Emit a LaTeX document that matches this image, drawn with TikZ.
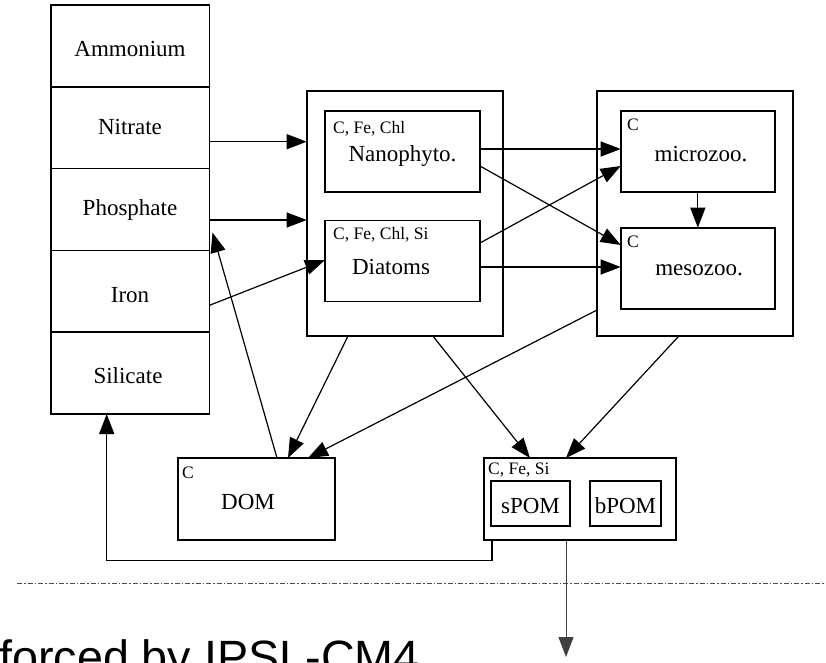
\documentclass[tikz,border=0pt]{standalone}
\usepackage{fontspec}
\setmainfont{Liberation Serif}
\newfontfamily\titlefont{Liberation Sans}
\usetikzlibrary{arrows.meta,calc}
\begin{document}
\begin{tikzpicture}[x=1pt,y=-1pt,
  box/.style={draw, line width=1.6pt, inner sep=0pt, outer sep=0pt},
  big/.style={font=\fontsize{23}{26}\selectfont, inner sep=0pt, anchor=base},
  small/.style={font=\fontsize{17.5}{20}\selectfont, inner sep=0pt, anchor=base west},
  arr/.style={line width=1.2pt, -{Triangle[length=20pt,width=15pt]}},
  sep/.style={line width=1pt, gray!60!black, dash pattern=on 5pt off 2pt on 1.5pt off 2pt}]
\useasboundingbox (0,0) rectangle (826,662);
% nutrient column
\node[box, minimum width=158.5pt, minimum height=81.8pt] (amm) at (130.25,45.9) {};
\node[box, minimum width=158.5pt, minimum height=81.8pt] (nit) at (130.25,127.7) {};
\node[box, minimum width=158.5pt, minimum height=81.8pt] (pho) at (130.25,209.5) {};
\node[box, minimum width=158.5pt, minimum height=81.8pt] (iro) at (130.25,291.3) {};
\node[box, minimum width=158.5pt, minimum height=81.8pt] (sil) at (130.25,373.1) {};
\node[big] (ammT) at (130,56) {Ammonium};
\node[big] (nitT) at (130,134) {Nitrate};
\node[big] (phoT) at (130,215) {Phosphate};
\node[big] (iroT) at (130,302) {Iron};
\node[big] (silT) at (128,383) {Silicate};
% phytoplankton
\node[box, minimum width=196.3pt, minimum height=245.3pt] (phy) at (404.85,213.35) {};
\node[box, minimum width=155pt, minimum height=81pt] (nano) at (402.5,151.5) {};
\node[box, minimum width=155pt, minimum height=81pt] (dia) at (402.5,261) {};
\node[small] (nanoL) at (333,133) {C, Fe, Chl};
\node[big] (nanoT) at (402.5,161) {Nanophyto.};
\node[small] (diaL) at (333,239) {C, Fe, Chl, Si};
\node[big] (diaT) at (391,274) {Diatoms};
% zooplankton
\node[box, minimum width=195.7pt, minimum height=245.3pt] (zoo) at (694.85,213.35) {};
\node[box, minimum width=154.3pt, minimum height=81pt] (mic) at (697.85,151.5) {};
\node[box, minimum width=154.3pt, minimum height=81pt] (mes) at (697.85,268.2) {};
\node[small] (micL) at (627,130) {C};
\node[big] (micT) at (701,161) {microzoo.};
\node[small] (mesL) at (627,247) {C};
\node[big] (mesT) at (699,275) {mesozoo.};
% DOM
\node[box, minimum width=157pt, minimum height=82pt] (dom) at (256.5,499) {};
\node[small] (domL) at (182,478) {C};
\node[big] (domT) at (248,509) {DOM};
% POM
\node[box, minimum width=192pt, minimum height=82pt] (pom) at (580,499) {};
\node[box, minimum width=79pt, minimum height=45pt] (spom) at (530.5,503.5) {};
\node[box, minimum width=71pt, minimum height=45pt] (bpom) at (625.5,503.5) {};
\node[small] (pomL) at (488,474) {C, Fe, Si};
\node[big] (spomT) at (530.5,513) {sPOM};
\node[big] (bpomT) at (625.5,513) {bPOM};
% coordinates
\coordinate (ret) at (106.7,560.7);
\coordinate (sink) at (566,657);
\coordinate (sepL) at (17,583);
\coordinate (sepR) at (826,583);
% connectors
\draw[arr] ([yshift=-14pt]nit.east) -- ([yshift=-14pt]nit.east -| phy.west);
\draw[arr] ([yshift=-10.5pt]pho.east) -- ([yshift=-10.5pt]pho.east -| phy.west);
\draw[arr] ([yshift=-14pt]iro.east) -- ([yshift=1pt]dia.west);
\draw[arr] ([yshift=2.5pt]nano.east) -- ([yshift=2.5pt]nano.east -| mic.west);
\draw[arr] ([yshift=-14.5pt]nano.east) -- ([yshift=23.2pt]mes.west);
\draw[arr] ([yshift=18pt]dia.east) -- ([yshift=-14.5pt]mic.west);
\draw[arr] ([yshift=-6pt]dia.east) -- ([yshift=-6pt]dia.east -| mes.west);
\draw[arr] (mic.south) -- (mes.north);
\draw[arr] ([xshift=-56.85pt]phy.south) -- ([xshift=31.5pt]dom.north);
\draw[arr] ([xshift=28pt]phy.south) -- ([xshift=-50pt]pom.north);
\draw[arr] ([yshift=-96.65pt]zoo.west) -- ([xshift=51.5pt]dom.north);
\draw[arr] ([xshift=-16pt]zoo.south) -- ([xshift=-14pt]pom.north);
\draw[arr] ([xshift=20.5pt]dom.north) -- ([xshift=3pt,yshift=-23pt]pho.east);
\draw[arr, line width=1.5pt] ([xshift=-88pt]pom.south) |- (ret) -- ([xshift=-23.55pt]sil.south);
\draw[sep] (sepL) -- (sepR);
\draw[line width=1pt, gray!50!black, -{Triangle[length=20pt,width=15pt]}] ([xshift=-14pt]pom.south) -- (sink);
% title
\node[font=\titlefont\fontsize{46.7}{50}\selectfont, inner sep=0pt, anchor=base west] (title) at (-1,673) {forced by IPSL-CM4};
\end{tikzpicture}
\end{document}
